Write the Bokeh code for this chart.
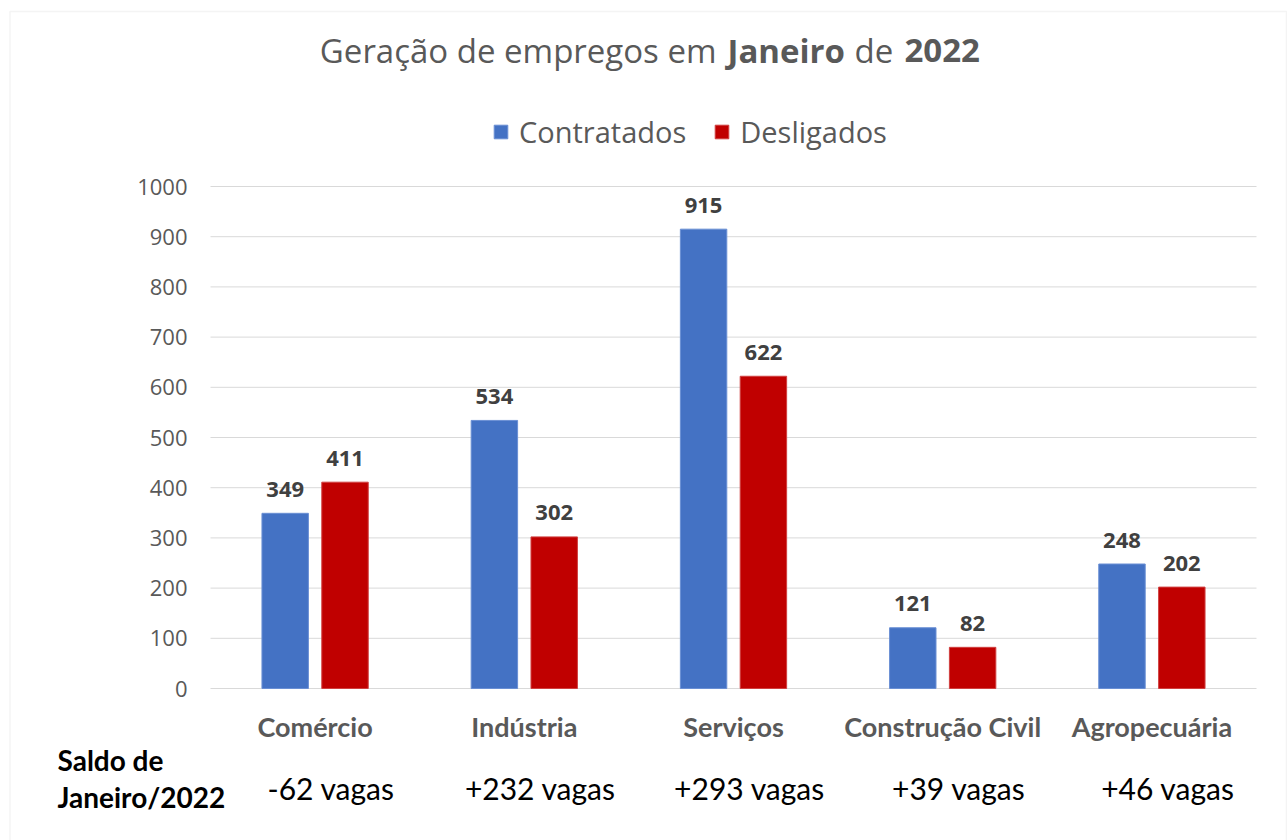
import numpy as np
from bokeh.plotting import figure
from bokeh.models import (Range1d, FixedTicker, LinearAxis, Label, Legend, LegendItem,
                          ColumnDataSource, BoxAnnotation)
from bokeh.core.properties import value
from bokeh.embed import file_html
from bokeh.resources import INLINE

categories = ["Comércio", "Indústria", "Serviços", "Construção Civil", "Agropecuária"]
contratados = [349, 534, 915, 121, 248]
desligados = [411, 302, 622, 82, 202]
saldo = ["-62 vagas", "+232 vagas", "+293 vagas", "+39 vagas", "+46 vagas"]
y_ticks = [0, 100, 200, 300, 400, 500, 600, 700, 800, 900, 1000]

W, H = 1287, 840
X0_PX, X5_PX = 210.0, 1256.0     # category band extent on the canvas
Y0_PX, Y1000_PX = 688.0, 186.0   # value 0 and value 1000 on the canvas
CAT_PX = (X5_PX - X0_PX) / len(categories)
PX_PER_UNIT = (Y0_PX - Y1000_PX) / 1000.0

def xd(px):
    return (px - X0_PX) / CAT_PX

def yd(py):
    return (Y0_PX - py) / PX_PER_UNIT

centers = np.arange(len(categories)) + 0.5
off = 0.143
bw = 0.222

src = ColumnDataSource(dict(
    xc=centers - off, xd=centers + off, xm=centers,
    contratados=contratados, desligados=desligados,
    lab_c=[str(v) for v in contratados], lab_d=[str(v) for v in desligados],
    saldo=saldo,
))

p = figure(width=W, height=H, output_backend="svg", toolbar_location=None,
           x_range=Range1d(xd(0), xd(W)), y_range=Range1d(yd(H), yd(0)),
           x_axis_location=None, y_axis_location=None,
           min_border=0, min_border_left=0, min_border_right=0,
           min_border_top=0, min_border_bottom=0)
p.outline_line_color = None
p.background_fill_color = "white"
p.border_fill_color = "white"
p.xgrid.visible = False
p.ygrid.visible = False

# chart border
p.add_layout(BoxAnnotation(left=xd(9.5), right=xd(1286), top=yd(11), bottom=yd(H + 50),
                           fill_alpha=0, line_color="#d9d9d9", line_width=1.5, level="underlay"))

# horizontal gridlines across the category band
p.segment(x0=0, x1=len(categories), y0=y_ticks, y1=y_ticks, line_color="#d9d9d9", line_width=1)

r1 = p.vbar(x="xc", top="contratados", width=bw, source=src,
            fill_color="#4472C4", line_color="#6a8fd4", line_width=1)
r2 = p.vbar(x="xd", top="desligados", width=bw, source=src,
            fill_color="#C00000", line_color="#d04040", line_width=1)

font = value("Open Sans")
for xcol, ycol, tcol in [("xc", "contratados", "lab_c"), ("xd", "desligados", "lab_d")]:
    p.text(x=xcol, y=ycol, text=tcol, source=src,
           text_font=font, text_font_style="bold", text_font_size="22px",
           text_color="#404040", text_align="center", text_baseline="alphabetic", y_offset=-24)

# y axis (drawn at the left edge of the category band)
yax = LinearAxis(fixed_location=0, ticker=FixedTicker(ticks=y_ticks))
yax.axis_line_color = None
yax.major_tick_line_color = None
yax.minor_tick_line_color = None
yax.major_tick_out = 0
yax.major_tick_in = 0
yax.major_label_standoff = 23
yax.major_label_text_font = "Open Sans"
yax.major_label_text_font_size = "22px"
yax.major_label_text_color = "#595959"
p.add_layout(yax, "left")

# category axis
xax = LinearAxis(fixed_location=0, ticker=FixedTicker(ticks=list(centers)),
                 major_label_overrides={float(c): n for c, n in zip(centers, categories)})
xax.axis_line_color = None
xax.major_tick_line_color = None
xax.minor_tick_line_color = None
xax.major_tick_out = 0
xax.major_tick_in = 0
xax.major_label_standoff = 21
xax.major_label_text_font = "Lato"
xax.major_label_text_font_style = "bold"
xax.major_label_text_font_size = "27px"
xax.major_label_text_color = "#595959"
p.add_layout(xax, "below")

# saldo row
p.text(x="xm", y=0, text="saldo", source=src, x_offset=16, y_offset=(Y0_PX - 787) * -1,
       text_font=value("Lato"), text_font_size="30px", text_color="black",
       text_align="center", text_baseline="middle")

for txt, yp in [("Saldo de", 759), ("Janeiro/2022", 796)]:
    p.add_layout(Label(x=xd(57), y=yd(yp), text=txt, text_font="Lato", text_font_style="bold",
                       text_font_size="28px", text_color="black",
                       text_align="left", text_baseline="middle"))

# title in pieces (mixed weights)
tcol = "#595959"
tsize = "33px"
title_y = yd(50)
for txt, xp, style, align in [("Geração de empregos em", 716, "normal", "right"),
                              ("Janeiro", 727, "bold", "left"),
                              ("de", 854, "normal", "left"),
                              ("2022", 904, "bold", "left")]:
    p.add_layout(Label(x=xd(xp), y=title_y, text=txt, text_font="Open Sans", text_font_style=style,
                       text_font_size=tsize, text_color=tcol, text_align=align,
                       text_baseline="middle"))

# legend
legend = Legend(items=[LegendItem(label="Contratados", renderers=[r1]),
                       LegendItem(label="Desligados", renderers=[r2])],
                orientation="horizontal", location=(492, H - 133 - 8.5 - 9),
                glyph_width=17, glyph_height=17, label_height=17, label_standoff=10, spacing=27,
                padding=0, margin=0, border_line_color=None, background_fill_alpha=0,
                label_text_font="Open Sans", label_text_font_size="29px",
                label_text_color="#595959")
p.add_layout(legend, "center")

open("out.html", "w").write(file_html(p, INLINE))
